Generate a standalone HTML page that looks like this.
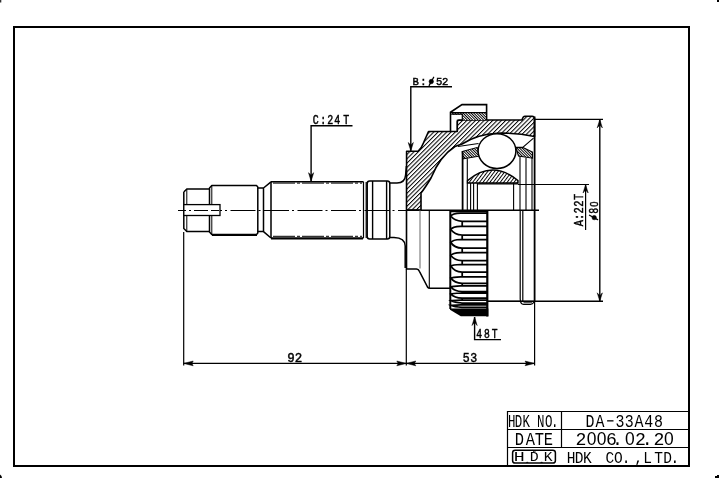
<!DOCTYPE html>
<html><head><meta charset="utf-8">
<style>
html,body{margin:0;padding:0;background:#fff;width:720px;height:479px;overflow:hidden}
svg{display:block;will-change:transform}

</style></head>
<body>
<svg width="720" height="479" viewBox="0 0 720 479">
<defs>
<pattern id="h1" patternUnits="userSpaceOnUse" width="3.05" height="10" patternTransform="rotate(45)">
<rect width="3.05" height="10" fill="#fff"/><rect x="0" y="0" width="1.0" height="10" fill="#000"/>
</pattern>
<pattern id="h3" patternUnits="userSpaceOnUse" width="2.75" height="10" patternTransform="rotate(37)">
<rect width="2.75" height="10" fill="#fff"/><rect x="0" y="0" width="0.95" height="10" fill="#000"/>
</pattern>
<pattern id="h2" patternUnits="userSpaceOnUse" width="1.9" height="10" patternTransform="rotate(-45)">
<rect width="1.9" height="10" fill="#fff"/><rect x="0" y="0" width="0.95" height="10" fill="#000"/>
</pattern>

</defs>
<rect width="720" height="479" fill="#fff"/>
<!-- corner marks -->
<rect x="0" y="0" width="1.3" height="2.5" fill="#333"/>
<rect x="717" y="0" width="2" height="2" fill="#000"/>
<path d="M0 474.5 L1.5 476 L2 478 L0 478 Z" fill="#000"/>
<path d="M717 475 L719 475 L719 478 L715 478 L715 476 L717 476 Z" fill="#000"/>
<!-- border -->
<rect x="14" y="27" width="675" height="439" fill="none" stroke="#000" stroke-width="2"/>

<!-- title block -->
<g stroke="#000" stroke-width="1.2" fill="none">
<path d="M507.5 466 V411.5 H689 M507.5 429.5 H689 M507.5 447.5 H689 M561.5 411.5 V447.5"/>
</g>
<!-- HDK logo box -->
<rect x="512.6" y="450.2" width="42.8" height="12.9" rx="2.6" fill="none" stroke="#000" stroke-width="1.5"/>
<path d="M532.6,450.4 L534.3,452 L536,450.4 M526.5,463 L527.3,461.9 L528.1,463 M540.8,463 L541.6,461.9 L542.4,463" fill="none" stroke="#000" stroke-width="1"/>

<!-- ============ DRAWING ============ -->
<!-- outer race hatched section (top half) -->
<path d="M406.6,151.3 L418,151.3 Q421.5,148.5 423.2,143.5 L428.5,131.5 L457.3,131.5 L457.3,121.5 Q457.5,120 459,120 L522,120 Q523,116.2 525,116.2 L532,116.2 Q534.5,116.5 534.5,119 L534.5,136.5
 Q516,132.6 497,133.2 Q478,134 462,144 L455,146.5 Q440,156 431,178 Q425,188 421,193 L421,210 L406.5,210 Z" fill="url(#h1)" stroke="#000" stroke-width="1.6" stroke-linejoin="round"/>
<!-- clamp -->
<path d="M450.5,131.5 V112.3 L462,104.6 H486.6 V120" fill="none" stroke="#000" stroke-width="1.6"/>
<path d="M451.3,112.4 H486 V120 H462.3 V114.7 H451.3 Z" fill="url(#h2)"/>
<path d="M451.3,114.2 H462.3 V120.3 H457.3 V131" fill="none" stroke="#000" stroke-width="1.2"/>
<line x1="450.5" y1="112.6" x2="486.6" y2="112.6" stroke="#000" stroke-width="1.2"/>

<!-- cage outer surface lines -->
<path d="M458,146.5 L478.5,143.5 M515.5,147.2 L523,147.2 L533.5,138.2" fill="none" stroke="#000" stroke-width="1.1"/>
<!-- cage pieces -->
<path d="M462.2,151.5 L477.5,147.4 L478.8,156.2 L462.9,158.9 Z" fill="url(#h2)" stroke="#000" stroke-width="1"/>
<path d="M515.8,147.6 L523,147.6 L532.5,152.1 L532.5,158.2 L518.5,156 Z" fill="url(#h2)" stroke="#000" stroke-width="1.1"/>
<!-- ball -->
<ellipse cx="497" cy="151.1" rx="18.9" ry="17.4" fill="#fff" stroke="#000" stroke-width="1.5"/>
<!-- inner race -->
<path d="M467.5,183 L467.5,180.6 Q492.5,159.4 518,180.6 L518,183 Z" fill="url(#h3)" stroke="#000" stroke-width="1.4"/>

<!-- verticals top half inside -->
<g stroke="#000" fill="none">
<path d="M462.6,151 V210" stroke-width="1.8"/>
<path d="M467.3,158.5 V210 M470.6,183 V210 M473.6,183 V210 M477.4,183 V210" stroke-width="1.1"/>
<path d="M513.6,183 V210 M520,156 V210 M526,158 V210 M532,158 V210" stroke-width="1.1"/>
<path d="M534.6,116.5 V301" stroke-width="1.8"/>
<path d="M477.4,183.8 H518" stroke-width="1.2"/>
</g>

<!-- centre/section boundary line -->
<line x1="406" y1="210.3" x2="539" y2="210.3" stroke="#000" stroke-width="1.4"/>
<line x1="178" y1="210.5" x2="406" y2="210.5" stroke="#000" stroke-width="1.1" stroke-dasharray="25 3 2 3.5" stroke-dashoffset="14.5"/>

<!-- ===== shaft ===== -->
<g stroke="#000" fill="none" stroke-linejoin="round">
<!-- tip -->
<path d="M183.8,192 L186.8,189 L209.5,189 M183.8,192 V228.5 L186.8,231.5 L209.5,231.5" stroke-width="1.5"/>
<path d="M186.8,189 V231.5" stroke-width="1"/>
<!-- section 2 -->
<path d="M209.5,188 L211.8,185.6 L256.5,185.6 L257.8,187 L257.8,233 L256.5,234.6 L211.8,234.6 L209.5,232 Z" stroke-width="1.5"/>
<path d="M211.8,185.6 V234.6" stroke-width="1"/>
<path d="M212,235.2 H257" stroke-width="1.6"/>
<!-- groove + cone -->
<path d="M257.8,188 H263.5 L271,181.8 M257.8,231.6 H263.5 L271,238 M263.5,188 V231.6" stroke-width="1.5"/>
<!-- spline shaft -->
<path d="M271,181.8 H363.5 M271,238 H363.5 M271,181.8 V238" stroke-width="1.5"/>
<path d="M271,238.8 H363" stroke-width="1.4"/>
<path d="M273,183.1 H362 M273,236.3 H362" stroke-width="1" stroke-dasharray="22 2 3 2"/>
<path d="M363.5,181.8 V238 M366.2,182 V238" stroke-width="1.2"/>
<!-- ring -->
<rect x="367.2" y="181" width="22.6" height="58" rx="2.5" stroke-width="1.5"/>
<path d="M372.6,181 V239 M386.6,181 V239" stroke-width="1.4"/>
<!-- neck -->
<path d="M389.8,183 H397 Q405,183 405.6,175 L406.4,166" stroke-width="1.5"/>
<path d="M389.8,237.6 H394 Q405,238 405.2,246 V268" stroke-width="1.5"/>
<!-- outer race exterior (bottom half) -->
<path d="M406.5,210 V269 H416.5 Q418.5,269 419.5,271.5 L427.5,287 Q428.3,288.3 430,288.3 H450" stroke-width="1.6"/>
<path d="M420,210 V268.5" stroke-width="0.9" stroke="#555"/>
<path d="M429.3,210 V288" stroke-width="1.1"/>
<path d="M487.6,301.3 H534.6 M520.2,210 V299 Q520.4,304.4 523.5,304.4 H530.5 Q532.5,304.4 534,302.2 M522.8,210 V301.3" stroke-width="1.2"/><path d="M523.5,302.7 H532" stroke-width="0.8"/>
</g>
<!-- slot -->
<rect x="183.8" y="204.6" width="36.2" height="10.9" fill="#fff" stroke="#000" stroke-width="1.3"/>
<line x1="178" y1="210.5" x2="220" y2="210.5" stroke="#000" stroke-width="1" stroke-dasharray="8 3 2 3 14 3"/>

<!-- ABS ring -->
<g stroke="#000" fill="none">
<path d="M450.3,211 V309" stroke-width="2"/>
<path d="M487.3,210.5 V316.5" stroke-width="2.2"/>
<path d="M450.3,211.6 H487" stroke-width="1.1"/>
<path d="M487,213.10 H460.5 Q452.5,213.40 450.8,216.05 Q454.5,220.90 462,221.30 H487 M462.2,221.30 V226.30 M487,226.30 H460.5 Q452.5,226.60 450.8,229.43 Q454.5,234.60 462,235.00 H487 M462.2,235.00 V239.50 M487,239.50 H460.5 Q452.5,239.80 450.8,242.63 Q454.5,247.80 462,248.20 H487 M462.2,248.20 V252.60 M487,252.60 H460.5 Q452.5,252.90 450.8,255.52 Q454.5,260.30 462,260.70 H487 M462.2,260.70 V264.50 M487,264.50 H460.5 Q452.5,264.80 450.8,266.04 Q454.5,271.80 462,272.20 H487 M462.2,272.20 V276.80 M487,276.80 H460.5 Q452.5,277.10 450.8,278.10 Q454.5,282.90 462,283.30 H487 M462.2,283.30 V285.80 M487,285.80 H460.5 Q452.5,286.10 450.8,286.98 Q454.5,291.30 462,291.70 H487 M462.2,291.70 V293.00 M487,293.00 H460.5 Q452.5,293.30 450.8,294.04 Q454.5,297.80 462,298.20 H487 M462.2,298.20 V300.00 M487,300.00 H460.5 Q452.5,300.30 450.8,300.60 Q454.5,302.60 462,303.00 H487 M462.2,303.00 V304.80 M487,304.80 H460.5 Q452.5,305.10 450.8,305.32 Q454.5,307.00 462,307.40 H487" stroke-width="1.75"/>
</g>
<path d="M450,308.6 H488.3 V316.3 H460.8 L450,309.8 Z" fill="#000"/>


<!-- ===== dimensions ===== -->
<g stroke="#000" fill="none" stroke-width="1.2">
<!-- 92 / 53 -->
<path d="M183.7,232 V365.5 M406.3,269 V365.5 M534.6,301 V365.5"/>
<path d="M183.7,363.4 H534.6"/>
<!-- phi80 -->
<path d="M534.6,119.4 H603 M487.6,301.3 H603 M599.8,119.4 V301.3" stroke-width="1.4"/>
<!-- A:22T -->
<path d="M518,184.5 H589 M585.6,184.5 V230"/>
<!-- C:24T leader -->
<path d="M352.5,125.8 H311.1 V181" stroke-width="1.4"/>
<!-- B:phi52 leader -->
<path d="M452,86.7 H410.8 V151" stroke-width="1.4"/>
<!-- 48T leader -->
<path d="M474.6,317 V339.6 H501" stroke-width="1.4"/>
</g>
<path d="M183.70,363.40 L193.20,361.00 L191.90,363.40 L193.20,365.80 Z M406.30,363.40 L396.80,365.80 L398.30,363.40 L396.80,361.00 Z M406.30,363.40 L415.80,361.00 L414.30,363.40 L415.80,365.80 Z M534.60,363.40 L525.10,365.70 L526.40,363.40 L525.10,361.10 Z M599.80,119.40 L602.40,127.90 L599.80,124.90 L597.20,127.90 Z M599.80,301.30 L597.20,292.80 L599.80,295.80 L602.40,292.80 Z M585.60,184.50 L588.20,193.00 L585.60,190.00 L583.00,193.00 Z M311.10,181.20 L308.50,172.70 L311.10,175.20 L313.70,172.70 Z M410.80,151.00 L408.20,142.50 L410.80,145.00 L413.40,142.50 Z M474.60,317.00 L477.20,325.50 L474.60,322.50 L472.00,325.50 Z" fill="#000" stroke="#000" stroke-width="0.5" stroke-linejoin="round"/>
<!-- phi symbols -->
<g fill="#000" stroke="#000" stroke-width="0.6">
<ellipse cx="431.3" cy="81.5" rx="2.2" ry="2.2"/>
<ellipse cx="594.2" cy="217.6" rx="2.2" ry="2.2"/>
</g>
<g stroke="#000" fill="none" stroke-width="1.3" stroke-linecap="round">
<path d="M433.7,77.2 L429.2,85.4"/>
<path d="M589.5,215.2 L597.6,219.6"/>
</g>

<g fill="#000">
<text x="725.74 735.31 746.60 767.17 778.68 787.13" y="426.70" font-size="17.75" style="font-family:&quot;Liberation Mono&quot;" transform="scale(0.7000,1)" >HDKNO.</text>
<text x="598.59 611.28 621.90 632.31" y="444.60" font-size="17.91" style="font-family:&quot;Liberation Mono&quot;" transform="scale(0.8600,1)" >DATE</text>
<text x="697.05 708.81 732.69 743.88 755.36 766.97 778.49" y="426.70" font-size="17.75" style="font-family:&quot;Liberation Mono&quot;" transform="scale(0.8400,1)" >DA33A48</text>
<rect x="607.1" y="420.2" width="6.4" height="1.3"/>
<text x="575.53 605.95 612.09 635.03 641.79 653.43" y="445.20" font-size="18.21" style="font-family:&quot;Liberation Mono&quot;" transform="scale(1.0000,1)" >26.2.2</text><text x="586.82 596.72 625.02 664.02" y="445.20" font-size="17.44" style="font-family:&quot;Liberation Sans&quot;" transform="scale(1.0000,1)" >0000</text>
<text x="666.77 676.06 685.95 712.30 722.21 731.52 746.30 756.73 769.84 780.42 788.81" y="462.75" font-size="17.07" style="font-family:&quot;Liberation Mono&quot;" transform="scale(0.8500,1)" >HDKCO.,LTD.</text>
<text x="367.04" y="461.20" font-size="13.05" style="font-family:&quot;Liberation Mono&quot;" transform="scale(1.4000,1)" >H</text>
<text x="464.67" y="461.40" font-size="13.05" style="font-family:&quot;Liberation Mono&quot;" transform="scale(1.1400,1)" >D</text>
<text x="508.08" y="461.40" font-size="13.66" style="font-family:&quot;Liberation Mono&quot;" transform="scale(1.0700,1)" >K</text>
</g>
<g fill="#000">
<text x="381.41 390.60 399.15 407.56 418.70" y="123.90" font-size="12.14" style="font-family:&quot;Liberation Mono&quot;" transform="scale(0.8200,1)" stroke="#000" stroke-width="0.45">C:24T</text>
<text x="434.18 442.27" y="84.60" font-size="11.08" style="font-family:&quot;Liberation Mono&quot;" transform="scale(0.9500,1)" stroke="#000" stroke-width="0.45">B:</text>
<text x="458.88 465.33" y="84.60" font-size="11.08" style="font-family:&quot;Liberation Mono&quot;" transform="scale(0.9500,1)" stroke="#000" stroke-width="0.45">52</text>
<text x="595.39 604.96 614.68" y="338.00" font-size="12.14" style="font-family:&quot;Liberation Mono&quot;" transform="scale(0.8000,1)" stroke="#000" stroke-width="0.45">48T</text>
<text x="287.24 294.63" y="361.90" font-size="12.44" style="font-family:&quot;Liberation Mono&quot;" transform="scale(1.0000,1)" stroke="#000" stroke-width="0.45">92</text>
<text x="487.24 495.02" y="362.00" font-size="12.14" style="font-family:&quot;Liberation Mono&quot;" transform="scale(0.9500,1)" stroke="#000" stroke-width="0.45">53</text>
</g>
<g transform="translate(583.1,226.3) rotate(-90)" fill="#000"><text x="0.00 7.97 16.09 24.59 32.89" y="-0.10" font-size="13.05" style="font-family:&quot;Liberation Mono&quot;" transform="scale(0.8000,1)" stroke="#000" stroke-width="0.45">A:22T</text></g>
<g transform="translate(597.7,220) rotate(-90)" fill="#000"><text x="7.70" y="-0.10" font-size="12.29" style="font-family:&quot;Liberation Mono&quot;" transform="scale(0.8000,1)" stroke="#000" stroke-width="0.45">8</text><text x="16.54" y="-0.10" font-size="11.77" style="font-family:&quot;Liberation Sans&quot;" transform="scale(0.8000,1)" stroke="#000" stroke-width="0.45">0</text></g>
</svg>

</body></html>
